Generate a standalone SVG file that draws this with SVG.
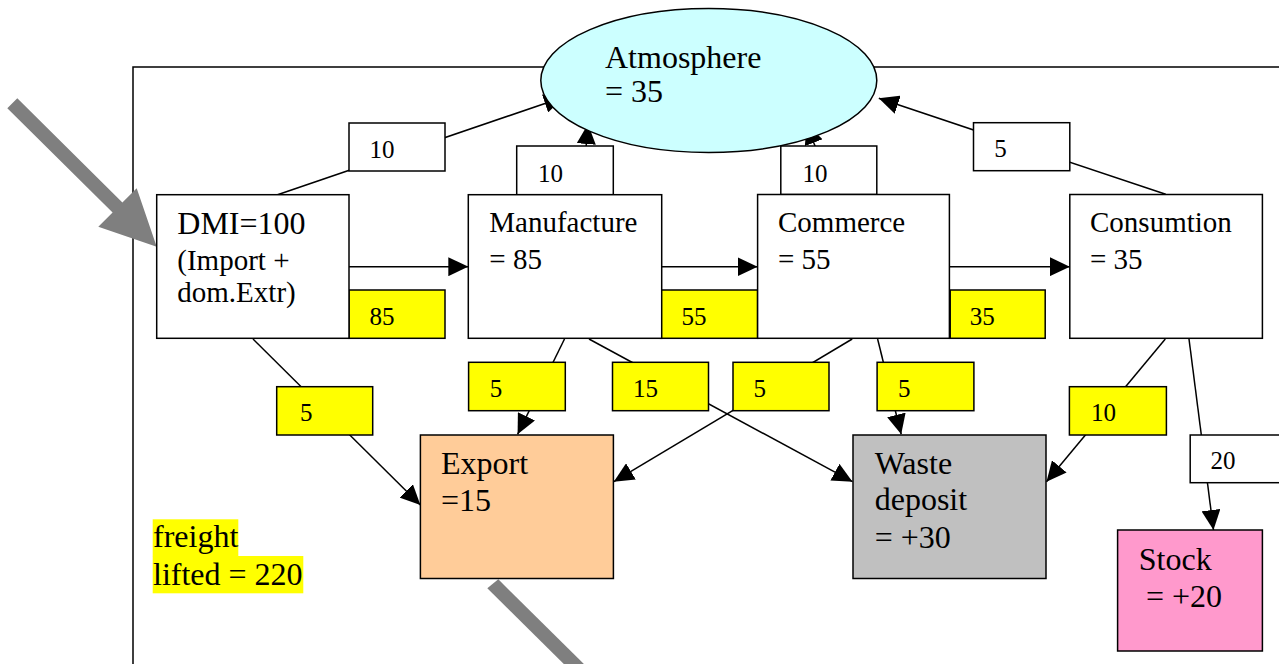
<svg xmlns="http://www.w3.org/2000/svg" width="1279" height="664" viewBox="0 0 1279 664">
<style>
.t{font-family:"Liberation Serif","Times New Roman",serif;fill:#000}
.big{font-size:32px}
.mid{font-size:29px}
.lbl{font-size:25px}
.node{stroke:#000;stroke-width:1.5}
.lb{stroke:#000;stroke-width:1.5}
.y{fill:#FFFF00}
.w{fill:#FFFFFF}
.c{stroke:#000;stroke-width:1.5;fill:none}
.a{marker-end:url(#ah)}
.gray{fill:#7F7F7F}
</style>
<defs>
<marker id="ah" markerUnits="userSpaceOnUse" markerWidth="20" markerHeight="19" refX="20" refY="9.5" orient="auto" viewBox="0 0 20 19">
<path d="M0,0 L20,9.5 L0,19 z" fill="#000"/>
</marker>
</defs>
<rect width="1279" height="664" fill="#FFFFFF"/>
<!-- frame -->
<path d="M133,664 L133,67 L1279,67" fill="none" stroke="#000" stroke-width="1.5"/>
<!-- gray flow arrows -->
<polygon class="gray" points="17.3,98.3 122.4,202.5 136.7,188.3 156.7,246.7 98.3,226.7 112.6,212.5 7.3,108.3"/>
<polygon class="gray" points="487.3,588.3 498.3,579.3 592,672 581,681"/>
<g id="connectors">
<line class="c a" x1="277.5" y1="194.7" x2="564" y2="97"/>
<line class="c a" x1="582" y1="195" x2="588" y2="124"/>
<line class="c a" x1="834" y1="195" x2="806.5" y2="124"/>
<line class="c a" x1="1165.7" y1="194.3" x2="878.8" y2="98.3"/>
<line class="c a" x1="349" y1="266.7" x2="468.3" y2="266.7"/>
<line class="c a" x1="661.7" y1="266.7" x2="757.6" y2="266.7"/>
<line class="c a" x1="949.4" y1="266.7" x2="1069.8" y2="266.7"/>
<line class="c a" x1="253" y1="339" x2="420.4" y2="505"/>
<line class="c a" x1="564.5" y1="339" x2="517.6" y2="434.3"/>
<line class="c a" x1="589" y1="339" x2="852.5" y2="481.7"/>
<line class="c a" x1="852.2" y1="339" x2="613.8" y2="481.7"/>
<line class="c a" x1="877.6" y1="339" x2="901.2" y2="434.3"/>
<line class="c a" x1="1165.3" y1="339" x2="1046.5" y2="481.7"/>
<line class="c a" x1="1189" y1="339" x2="1213.5" y2="530"/>
<!-- edge labels -->
<g id="lbl-10a"><rect class="lb w" x="349" y="123" width="96" height="48"/><text class="t lbl" x="369.4" y="158.3">10</text></g>
<g id="lbl-10b"><rect class="lb w" x="516.7" y="146" width="96.6" height="48.7"/><text class="t lbl" x="538" y="181.7">10</text></g>
<g id="lbl-10c"><rect class="lb w" x="780.8" y="146" width="96" height="48.5"/><text class="t lbl" x="802.4" y="181.7">10</text></g>
<g id="lbl-5a"><rect class="lb w" x="973.5" y="122.7" width="96.3" height="48"/><text class="t lbl" x="994.3" y="157.3">5</text></g>
<g id="lbl-85"><rect class="lb y" x="349" y="290" width="96" height="48.3"/><text class="t lbl" x="369.4" y="325">85</text></g>
<g id="lbl-55"><rect class="lb y" x="660.4" y="290" width="97.2" height="48.3"/><text class="t lbl" x="681.6" y="325">55</text></g>
<g id="lbl-35"><rect class="lb y" x="950.2" y="290" width="95" height="48.3"/><text class="t lbl" x="969.8" y="325">35</text></g>
<g id="lbl-5b"><rect class="lb y" x="276.7" y="386.7" width="96" height="48.3"/><text class="t lbl" x="300" y="420.7">5</text></g>
<g id="lbl-5c"><rect class="lb y" x="468.6" y="362.3" width="96.7" height="48.4"/><text class="t lbl" x="489.8" y="397.3">5</text></g>
<g id="lbl-15"><rect class="lb y" x="612.5" y="362.3" width="96" height="48.4"/><text class="t lbl" x="633" y="397.3">15</text></g>
<g id="lbl-5d"><rect class="lb y" x="733" y="362.3" width="96" height="48.4"/><text class="t lbl" x="753.5" y="397.3">5</text></g>
<g id="lbl-5e"><rect class="lb y" x="877.1" y="362.3" width="96.8" height="48.4"/><text class="t lbl" x="898" y="397.3">5</text></g>
<g id="lbl-10d"><rect class="lb y" x="1069.4" y="386.7" width="97" height="48.3"/><text class="t lbl" x="1091" y="420.7">10</text></g>
<g id="lbl-20"><rect class="lb w" x="1190.2" y="435" width="100" height="47.7"/><text class="t lbl" x="1210.6" y="469.3">20</text></g>
</g>
<g id="atmosphere">
<ellipse class="node" cx="708.8" cy="80.5" rx="168" ry="72" fill="#CCFFFF"/>
<text class="t big" x="605" y="67.7">Atmosphere</text>
<text class="t big" x="605" y="102.3">= 35</text>
</g>
<g id="dmi">
<rect class="node w" x="156.7" y="194.7" width="192.3" height="143.6"/>
<text class="t big" x="177.3" y="234.3">DMI=100</text>
<text class="t mid" x="177.3" y="270">(Import +</text>
<text class="t mid" x="177.3" y="301.7">dom.Extr)</text>
</g>
<g id="manufacture">
<rect class="node w" x="468.3" y="194.7" width="193.4" height="143.6"/>
<text class="t mid" x="489.3" y="232.3">Manufacture</text>
<text class="t mid" x="489.3" y="269.3">= 85</text>
</g>
<g id="commerce">
<rect class="node w" x="757.6" y="194.5" width="191.8" height="143.8"/>
<text class="t mid" x="778" y="232.3">Commerce</text>
<text class="t mid" x="778" y="268.5">= 55</text>
</g>
<g id="consumtion">
<rect class="node w" x="1069.8" y="194.5" width="192.6" height="143.8"/>
<text class="t mid" x="1090" y="232.3">Consumtion</text>
<text class="t mid" x="1090" y="268.5">= 35</text>
</g>
<g id="export">
<rect class="node" x="420.4" y="435" width="193" height="143.5" fill="#FFCC99"/>
<text class="t big" x="441" y="474.3">Export</text>
<text class="t big" x="441" y="510.7">=15</text>
</g>
<g id="waste">
<rect class="node" x="853" y="435" width="193" height="143.5" fill="#C0C0C0"/>
<text class="t big" x="874.7" y="474">Waste</text>
<text class="t big" x="874.7" y="510">deposit</text>
<text class="t big" x="874.7" y="547.7">= +30</text>
</g>
<g id="stock">
<rect class="node" x="1117.6" y="530" width="144.8" height="121" fill="#FF99CC"/>
<text class="t big" x="1138.8" y="570">Stock</text>
<text class="t big" x="1146" y="606.7">= +20</text>
</g>
<g id="freight">
<rect x="152.7" y="519.3" width="85.6" height="36.9" fill="#FFFF00"/>
<rect x="152.7" y="556" width="150.6" height="37.3" fill="#FFFF00"/>
<text class="t big" x="153" y="547.3">freight</text>
<text class="t big" x="153" y="585">lifted = 220</text>
</g>
</svg>
